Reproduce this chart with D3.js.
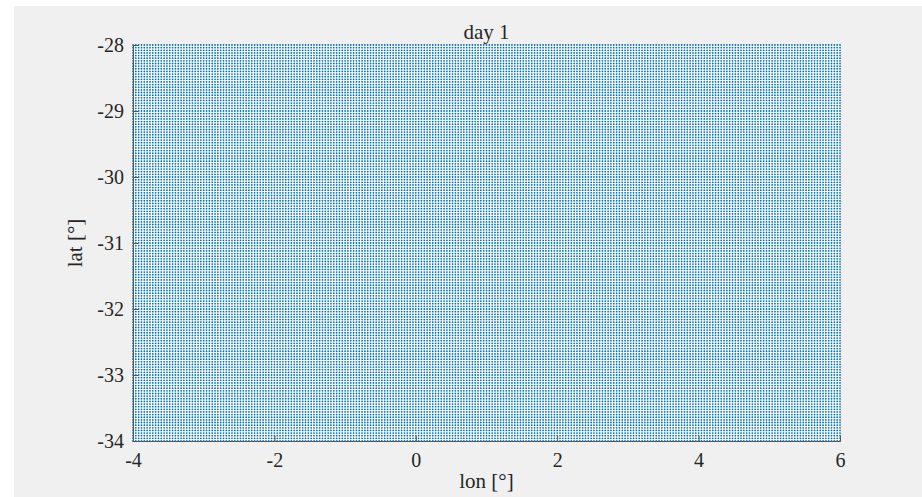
<!DOCTYPE html>
<html>
<head>
<meta charset="utf-8">
<script src="https://cdn.jsdelivr.net/npm/d3@7/dist/d3.min.js"></script>
<style>
  html, body { margin: 0; padding: 0; background: #ffffff; }
  svg { display: block; }
  text { font-family: "Liberation Serif", "DejaVu Serif", serif; fill: #262626; }
</style>
</head>
<body>
<svg id="chart" width="922" height="497"></svg>
<script>
// Grid node longitudes (degrees)
const lonNodes = [
  -4,-3.96,-3.92,-3.88,-3.84,-3.8,-3.76,-3.72,-3.68,-3.64,-3.6,-3.56,-3.52,-3.48,-3.44,-3.4,-3.36,-3.32,-3.28,-3.24,-3.2,-3.16,-3.12,-3.08,-3.04,
  -3,-2.96,-2.92,-2.88,-2.84,-2.8,-2.76,-2.72,-2.68,-2.64,-2.6,-2.56,-2.52,-2.48,-2.44,-2.4,-2.36,-2.32,-2.28,-2.24,-2.2,-2.16,-2.12,-2.08,-2.04,
  -2,-1.96,-1.92,-1.88,-1.84,-1.8,-1.76,-1.72,-1.68,-1.64,-1.6,-1.56,-1.52,-1.48,-1.44,-1.4,-1.36,-1.32,-1.28,-1.24,-1.2,-1.16,-1.12,-1.08,-1.04,
  -1,-0.96,-0.92,-0.88,-0.84,-0.8,-0.76,-0.72,-0.68,-0.64,-0.6,-0.56,-0.52,-0.48,-0.44,-0.4,-0.36,-0.32,-0.28,-0.24,-0.2,-0.16,-0.12,-0.08,-0.04,
  0,0.04,0.08,0.12,0.16,0.2,0.24,0.28,0.32,0.36,0.4,0.44,0.48,0.52,0.56,0.6,0.64,0.68,0.72,0.76,0.8,0.84,0.88,0.92,0.96,
  1,1.04,1.08,1.12,1.16,1.2,1.24,1.28,1.32,1.36,1.4,1.44,1.48,1.52,1.56,1.6,1.64,1.68,1.72,1.76,1.8,1.84,1.88,1.92,1.96,
  2,2.04,2.08,2.12,2.16,2.2,2.24,2.28,2.32,2.36,2.4,2.44,2.48,2.52,2.56,2.6,2.64,2.68,2.72,2.76,2.8,2.84,2.88,2.92,2.96,
  3,3.04,3.08,3.12,3.16,3.2,3.24,3.28,3.32,3.36,3.4,3.44,3.48,3.52,3.56,3.6,3.64,3.68,3.72,3.76,3.8,3.84,3.88,3.92,3.96,
  4,4.04,4.08,4.12,4.16,4.2,4.24,4.28,4.32,4.36,4.4,4.44,4.48,4.52,4.56,4.6,4.64,4.68,4.72,4.76,4.8,4.84,4.88,4.92,4.96,
  5,5.04,5.08,5.12,5.16,5.2,5.24,5.28,5.32,5.36,5.4,5.44,5.48,5.52,5.56,5.6,5.64,5.68,5.72,5.76,5.8,5.84,5.88,5.92,5.96,
  6
];

// Grid node latitudes (degrees)
const latNodes = [
  -34,-33.96,-33.92,-33.88,-33.84,-33.8,-33.76,-33.72,-33.68,-33.64,-33.6,-33.56,-33.52,-33.48,-33.44,-33.4,-33.36,-33.32,-33.28,-33.24,-33.2,-33.16,-33.12,-33.08,-33.04,
  -33,-32.96,-32.92,-32.88,-32.84,-32.8,-32.76,-32.72,-32.68,-32.64,-32.6,-32.56,-32.52,-32.48,-32.44,-32.4,-32.36,-32.32,-32.28,-32.24,-32.2,-32.16,-32.12,-32.08,-32.04,
  -32,-31.96,-31.92,-31.88,-31.84,-31.8,-31.76,-31.72,-31.68,-31.64,-31.6,-31.56,-31.52,-31.48,-31.44,-31.4,-31.36,-31.32,-31.28,-31.24,-31.2,-31.16,-31.12,-31.08,-31.04,
  -31,-30.96,-30.92,-30.88,-30.84,-30.8,-30.76,-30.72,-30.68,-30.64,-30.6,-30.56,-30.52,-30.48,-30.44,-30.4,-30.36,-30.32,-30.28,-30.24,-30.2,-30.16,-30.12,-30.08,-30.04,
  -30,-29.96,-29.92,-29.88,-29.84,-29.8,-29.76,-29.72,-29.68,-29.64,-29.6,-29.56,-29.52,-29.48,-29.44,-29.4,-29.36,-29.32,-29.28,-29.24,-29.2,-29.16,-29.12,-29.08,-29.04,
  -29,-28.96,-28.92,-28.88,-28.84,-28.8,-28.76,-28.72,-28.68,-28.64,-28.6,-28.56,-28.52,-28.48,-28.44,-28.4,-28.36,-28.32,-28.28,-28.24,-28.2,-28.16,-28.12,-28.08,-28.04,
  -28
];

const xTicks = [-4, -2, 0, 2, 4, 6];
const yTicks = [-34, -33, -32, -31, -30, -29, -28];

const titleText = "day 1";
const xLabel = "lon [°]";
const yLabel = "lat [°]";

const svg = d3.select("#chart");
const W = 922, H = 497;
const plot = { left: 133, right: 840, top: 45, bottom: 441 };
const serif = '"Liberation Serif", "DejaVu Serif", serif';

// Figure background
svg.append("rect").attr("x", 14).attr("y", 6).attr("width", W - 14).attr("height", H - 6)
  .attr("fill", "#f0f0f0");
// Axes background
svg.append("rect").attr("x", plot.left).attr("y", plot.top)
  .attr("width", plot.right - plot.left).attr("height", plot.bottom - plot.top)
  .attr("fill", "#ffffff");

const x = d3.scaleLinear().domain([-4, 6]).range([plot.left, plot.right]);
const y = d3.scaleLinear().domain([-34, -28]).range([plot.bottom, plot.top]);

// Scatter of every grid node
const points = [];
for (const la of latNodes) for (const lo of lonNodes) points.push([lo, la]);

svg.append("g").attr("fill", "#0072BD")
  .selectAll("circle").data(points).join("circle")
  .attr("cx", d => x(d[0]))
  .attr("cy", d => y(d[1]))
  .attr("r", 0.9);

// Axes with inward ticks
const fmt = d => (d < 0 ? "-" : "") + Math.abs(d);
const xAxis = svg.append("g").attr("transform", `translate(0,${plot.bottom})`)
  .call(d3.axisBottom(x).tickValues(xTicks).tickFormat(fmt).tickSizeInner(-5).tickSizeOuter(0).tickPadding(12));
const yAxis = svg.append("g").attr("transform", `translate(${plot.left},0)`)
  .call(d3.axisLeft(y).tickValues(yTicks).tickFormat(fmt).tickSizeInner(-5).tickSizeOuter(0).tickPadding(9));

[xAxis, yAxis].forEach(g => {
  g.select(".domain").attr("stroke", "#555").attr("stroke-width", 1);
  g.selectAll(".tick line").attr("stroke", "#555");
  g.selectAll(".tick text").attr("font-size", 20).attr("fill", "#262626")
    .style("font-family", serif);
});

// Title and axis labels
svg.append("text").attr("x", (plot.left + plot.right) / 2).attr("y", 39)
  .attr("text-anchor", "middle").attr("font-size", 21).style("font-family", serif).text(titleText);
svg.append("text").attr("x", (plot.left + plot.right) / 2).attr("y", 488)
  .attr("text-anchor", "middle").attr("font-size", 21).style("font-family", serif).text(xLabel);
svg.append("text")
  .attr("transform", `translate(82,${(plot.top + plot.bottom) / 2}) rotate(-90)`)
  .attr("text-anchor", "middle").attr("font-size", 21).style("font-family", serif).text(yLabel);
</script>
</body>
</html>
